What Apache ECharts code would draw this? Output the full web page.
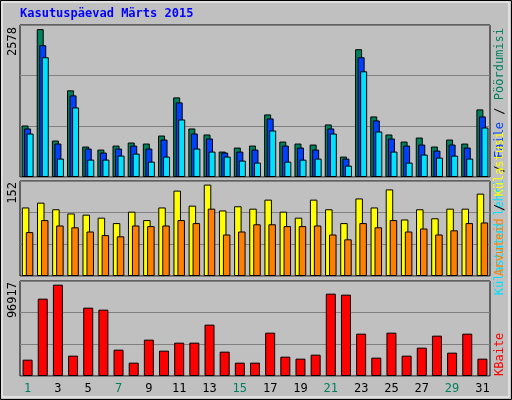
<!DOCTYPE html>
<html>
<head>
<meta charset="utf-8">
<script src="https://cdn.jsdelivr.net/npm/echarts@6/dist/echarts.min.js"></script>
<style>html,body{margin:0;padding:0;background:#fff}#c{width:512px;height:400px}</style>
</head>
<body>
<div id="c"></div>
<script>
var days = ['1','2','3','4','5','6','7','8','9','10','11','12','13','14','15','16','17','18','19','20','21','22','23','24','25','26','27','28','29','30','31'];
var weekend = ['1','7','8','14','15','21','22','28','29'];
// Pöördumisi / Faile / Külastatud lehti
var hits  = [898,2578,636,1511,531,478,548,601,583,723,1388,846,741,443,513,548,1091,618,583,566,916,356,2228,1056,741,618,688,531,653,583,1178];
var files = [846,2298,583,1423,496,426,496,548,496,653,1301,758,671,426,443,478,1021,548,513,478,846,321,2088,986,671,548,566,461,566,513,1056];
var pages = [758,2088,321,1213,303,303,373,408,268,356,1003,496,443,356,286,251,811,268,303,321,758,198,1843,793,443,251,391,338,373,321,863];
// Külastusi / Arvuteid
var visits = [114,122,111,104,102,97,88,107,93,114,142,117,152,109,116,112,127,107,97,127,111,88,129,114,144,94,111,96,112,112,137];
var sites  = [73,93,84,81,74,68,66,84,83,84,93,88,112,69,74,86,86,83,83,84,69,61,88,81,93,74,79,69,76,88,89];
// KBaite
var kbytes = [17331,82058,96917,21576,72509,70386,27942,14148,38553,26881,35370,35370,54470,25820,14148,14148,45981,20515,18392,22637,87364,86303,44920,19454,45981,21576,30065,42798,24759,44920,18392];

var topMax = 2650, midMax = 158, botMax = 100800;
var font = 'DejaVu Sans Mono';
var chart = echarts.init(document.getElementById('c'));

function yax(i, max) {
  return {gridIndex: i, min: 0, max: max, interval: max / 3, axisLabel: {show: false},
    axisLine: {show: false}, axisTick: {show: false},
    splitLine: {show: true, lineStyle: {color: '#808080', width: 1}}};
}
function xax(i, show) {
  return {gridIndex: i, type: 'category', data: days, axisTick: {show: false},
    axisLine: {show: false},
    axisLabel: {show: show, fontFamily: font, fontSize: 12, margin: 7,
      color: function (v) { return weekend.indexOf(v) >= 0 ? '#00805C' : '#000'; }}};
}
function bar(name, data, color, xi, w, gap) {
  return {name: name, type: 'bar', data: data, xAxisIndex: xi, yAxisIndex: xi,
    barWidth: w, barGap: gap, animation: false,
    itemStyle: {color: color, borderColor: '#000', borderWidth: 1}};
}
var gridBox = {show: true, borderColor: '#000', borderWidth: 1, backgroundColor: 'transparent'};

chart.setOption({
  backgroundColor: '#C0C0C0',
  grid: [
    Object.assign({left: 20, right: 22, top: 25, height: 152}, gridBox),
    Object.assign({left: 20, right: 22, top: 181, height: 95}, gridBox),
    Object.assign({left: 20, right: 22, top: 281, height: 95}, gridBox)
  ],
  xAxis: [xax(0, false), xax(1, false), xax(2, true)],
  yAxis: [yax(0, topMax), yax(1, midMax), yax(2, botMax)],
  series: [
    bar('Pöördumisi', hits, '#00805C', 0, 7, '-64%'),
    bar('Faile', files, '#0040FF', 0, 7, '-64%'),
    bar('Külastatud lehti', pages, '#00E0FF', 0, 7, '-64%'),
    bar('Külastusi', visits, '#FFFF00', 1, 7.5, '-47%'),
    bar('Arvuteid', sites, '#FF8000', 1, 7.5, '-47%'),
    bar('KBaite', kbytes, '#FF0000', 2, 10, '0%')
  ],
  graphic: [
    {type: 'rect', shape: {x: 0.5, y: 0.5, width: 511, height: 399}, style: {fill: 'none', stroke: '#000', lineWidth: 1}},
    {type: 'rect', shape: {x: 2, y: 2, width: 507, height: 395}, style: {fill: 'none', stroke: '#fff', lineWidth: 1}},
    {type: 'text', left: 20, top: 8, style: {text: 'Kasutuspäevad Märts 2015', fill: '#0000FF', font: 'bold 12px "DejaVu Sans Mono"'}},
    {type: 'text', x: 13, y: 27, rotation: Math.PI / 2, style: {text: '2578', fill: '#000', font: '12px "DejaVu Sans Mono"', align: 'right', verticalAlign: 'middle'}},
    {type: 'text', x: 13, y: 182, rotation: Math.PI / 2, style: {text: '152', fill: '#000', font: '12px "DejaVu Sans Mono"', align: 'right', verticalAlign: 'middle'}},
    {type: 'text', x: 13, y: 282, rotation: Math.PI / 2, style: {text: '96917', fill: '#000', font: '12px "DejaVu Sans Mono"', align: 'right', verticalAlign: 'middle'}},
    {type: 'text', x: 500, y: 28, rotation: Math.PI / 2, style: {
      text: '{c|Külastatud lehti} {k|/} {b|Faile} {k|/} {g|Pöördumisi}', align: 'right', verticalAlign: 'middle',
      font: '12px "DejaVu Sans Mono"',
      rich: {c: {fill: '#00E0FF', fontFamily: font, fontSize: 12}, b: {fill: '#0040FF', fontFamily: font, fontSize: 12},
        g: {fill: '#00805C', fontFamily: font, fontSize: 12}, k: {fill: '#000', fontFamily: font, fontSize: 12}}}},
    {type: 'text', x: 500, y: 276, rotation: Math.PI / 2, style: {
      text: '{o|Arvuteid} {k|/} {y|Külastusi}', align: 'left', verticalAlign: 'middle',
      font: '12px "DejaVu Sans Mono"',
      rich: {o: {fill: '#FF8000', fontFamily: font, fontSize: 12}, y: {fill: '#FFFF00', fontFamily: font, fontSize: 12},
        k: {fill: '#000', fontFamily: font, fontSize: 12}}}},
    {type: 'text', x: 500, y: 376, rotation: Math.PI / 2, style: {text: 'KBaite', fill: '#FF0000', font: '12px "DejaVu Sans Mono"', align: 'left', verticalAlign: 'middle'}}
  ]
});
</script>
</body>
</html>
